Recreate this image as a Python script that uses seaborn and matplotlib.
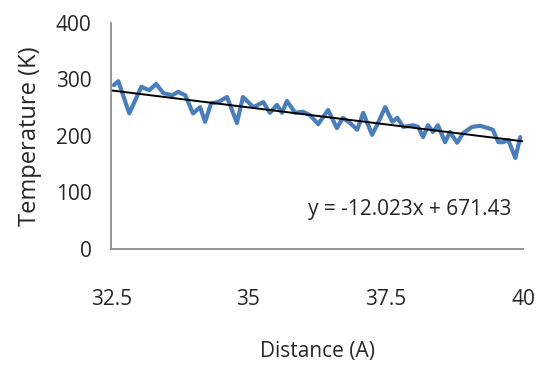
import numpy as np
import pandas as pd
import matplotlib
matplotlib.use("Agg")
import matplotlib.pyplot as plt
import seaborn as sns

# Datos
distance = [32.55, 32.63, 32.83, 33.05, 33.19, 33.32, 33.45, 33.61, 33.72, 33.85,
            33.99, 34.12, 34.21, 34.32, 34.45, 34.61, 34.79, 34.90, 35.09, 35.27,
            35.39, 35.52, 35.61, 35.70, 35.85, 35.99, 36.12, 36.27, 36.45, 36.61,
            36.72, 36.85, 36.98, 37.09, 37.25, 37.34, 37.49, 37.62, 37.71, 37.82,
            38.00, 38.09, 38.18, 38.27, 38.36, 38.45, 38.58, 38.67, 38.80, 38.91,
            39.07, 39.22, 39.36, 39.45, 39.55, 39.64, 39.73, 39.86, 39.95]
temperature = [290, 297, 240, 287, 281, 292, 276, 272, 278, 272,
               240, 251, 225, 258, 260, 269, 223, 269, 251, 260,
               241, 255, 241, 262, 241, 243, 237, 221, 246, 214,
               232, 223, 211, 241, 202, 219, 251, 225, 232, 216,
               219, 216, 198, 219, 207, 219, 189, 207, 188, 205,
               216, 218, 214, 211, 189, 189, 193, 161, 198]

slope = -12.023
intercept = 671.43
x_ticks = [32.5, 35, 37.5, 40]
y_ticks = [0, 100, 200, 300, 400]

df = pd.DataFrame({"Distance": distance, "Temperature": temperature})
trend_x = np.array([32.5, 40])
trend = pd.DataFrame({"Distance": trend_x, "Temperature": slope * trend_x + intercept})

sns.set_style("white")
plt.rcParams["font.family"] = ["Open Sans", "DejaVu Sans"]
txt = "#262626"

fig = plt.figure(figsize=(5.37, 3.71), dpi=100)
ax = fig.add_axes([0.207, 0.329, 0.767, 0.609])

sns.lineplot(data=df, x="Distance", y="Temperature", color="#4a7ebb",
             linewidth=3.0, ax=ax, solid_joinstyle="round", solid_capstyle="round")
sns.lineplot(data=trend, x="Distance", y="Temperature", color="black",
             linewidth=1.4, ax=ax)

ax.set_xlim(32.5, 40)
ax.set_ylim(0, 400)
ax.set_xticks(x_ticks)
ax.set_xticklabels(["32.5", "35", "37.5", "40"])
ax.set_yticks(y_ticks)

ax.tick_params(axis="x", labelsize=15, pad=29, length=0, labelcolor=txt)
ax.tick_params(axis="y", labelsize=15, pad=14, length=0, labelcolor=txt)

for side in ["top", "right"]:
    ax.spines[side].set_visible(False)
for side in ["left", "bottom"]:
    ax.spines[side].set_color("#8c8c8c")
    ax.spines[side].set_linewidth(1.3)

ax.set_xlabel("Distance (A)", fontsize=15, labelpad=22, color=txt)
ax.set_ylabel("Temperature (K)", fontsize=17, labelpad=10, color=txt)

ax.text(0.726, 0.173, f"y = {slope}x + {intercept}", transform=ax.transAxes,
        ha="center", va="center", fontsize=15, color=txt)

fig.savefig("out.png", dpi=100)
